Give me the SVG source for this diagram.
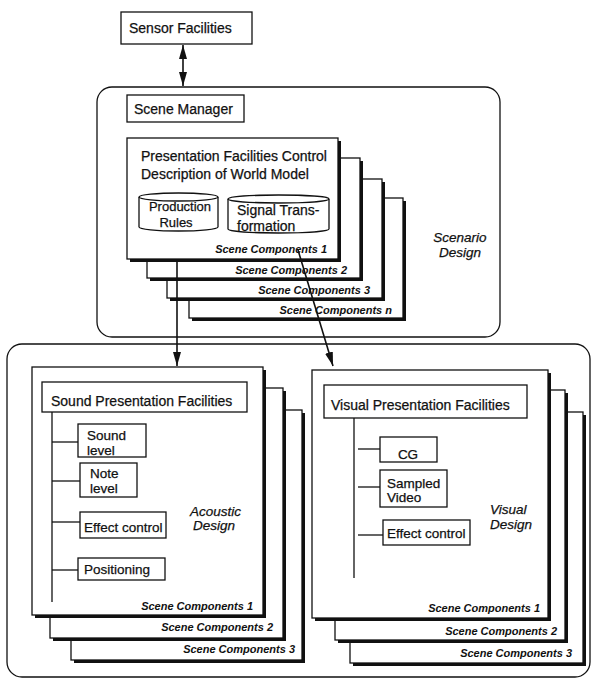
<svg xmlns="http://www.w3.org/2000/svg" width="593" height="679" viewBox="0 0 593 679">
<style>
.t{font-family:"Liberation Sans",Arial,sans-serif;font-size:14px;fill:#111;stroke:#111;stroke-width:0.25}
.c{font-family:"Liberation Sans",Arial,sans-serif;font-size:13px;fill:#111;stroke:#111;stroke-width:0.25}
.s{font-family:"Liberation Sans",Arial,sans-serif;font-size:13.5px;fill:#111;stroke:#111;stroke-width:0.25}
.i{font-family:"Liberation Sans",Arial,sans-serif;font-size:13.5px;font-style:italic;fill:#111;stroke:#111;stroke-width:0.25}
.sc{font-family:"Liberation Sans",Arial,sans-serif;font-size:11px;font-style:italic;font-weight:bold;fill:#111;text-anchor:end}
.box{fill:#fff;stroke:#111;stroke-width:1.3}
.frame{fill:none;stroke:#111;stroke-width:1.3}
.sh{fill:#111}
.ln{stroke:#111;stroke-width:1.3;fill:none}
.ar{stroke:#111;stroke-width:1.6;fill:none}
</style>
<defs>
<marker id="ah" viewBox="0 0 14 8" refX="14" refY="4" markerWidth="14" markerHeight="8" orient="auto-start-reverse" markerUnits="userSpaceOnUse">
<path d="M0,0 L14,4 L0,8 z" fill="#111"/>
</marker>
</defs>
<rect width="593" height="679" fill="#fff"/>

<g id="scenario-design">
<rect class="frame" x="97" y="87" width="403" height="250" rx="15"/>
<text class="i" x="460" y="242" text-anchor="middle">Scenario</text>
<text class="i" x="460" y="257" text-anchor="middle">Design</text>
</g>

<g id="presentation-design">
<rect class="frame" x="7" y="344" width="583" height="333" rx="15"/>
</g>

<g id="sensor-facilities">
<rect class="box" x="121" y="12" width="131" height="32"/>
<text class="t" x="129" y="33">Sensor Facilities</text>
</g>

<g id="scene-manager">
<rect class="box" x="127" y="95" width="117" height="27"/>
<text class="t" x="134" y="114">Scene Manager</text>
</g>

<g id="scene-components-n">
<rect class="sh" x="192" y="201" width="214" height="120"/>
<rect class="box" x="189" y="198" width="214" height="120"/>
<text class="sc" x="392" y="314">Scene Components n</text>
</g>
<g id="scene-components-3">
<rect class="sh" x="170" y="182" width="215" height="119"/>
<rect class="box" x="167" y="179" width="215" height="119"/>
<text class="sc" x="370" y="294">Scene Components 3</text>
</g>
<g id="scene-components-2">
<rect class="sh" x="150" y="161" width="213" height="120"/>
<rect class="box" x="147" y="158" width="213" height="120"/>
<text class="sc" x="347" y="274">Scene Components 2</text>
</g>
<g id="scene-components-1">
<rect class="sh" x="130" y="141" width="211" height="121"/>
<rect class="box" x="127" y="138" width="211" height="121"/>
<text class="t" x="141" y="161">Presentation Facilities Control</text>
<text class="t" x="141" y="179">Description of World Model</text>
<text class="sc" x="327" y="253">Scene Components 1</text>
</g>

<g id="production-rules">
<path class="box" d="M139,197 A39.5,4 0 0 1 218,197 L218,227 A39.5,4 0 0 1 139,227 Z"/>
<path class="ln" d="M139,197 A39.5,4 0 0 0 218,197"/>
<text class="c" x="180" y="211" text-anchor="middle">Production</text>
<text class="c" x="176" y="227" text-anchor="middle">Rules</text>
</g>

<g id="signal-transformation">
<path class="box" d="M228,199 A50.5,4 0 0 1 329,199 L329,229 A50.5,4 0 0 1 228,229 Z"/>
<path class="ln" d="M228,199 A50.5,4 0 0 0 329,199"/>
<text class="t" x="237" y="215">Signal Trans-</text>
<text class="t" x="237" y="231">formation</text>
</g>

<g id="sound-card-3">
<rect class="sh" x="74" y="413" width="231" height="250"/>
<rect class="box" x="71" y="410" width="231" height="250"/>
<text class="sc" x="295" y="653">Scene Components 3</text>
</g>
<g id="sound-card-2">
<rect class="sh" x="53" y="391" width="233" height="250"/>
<rect class="box" x="50" y="388" width="233" height="250"/>
<text class="sc" x="273" y="631">Scene Components 2</text>
</g>
<g id="sound-card-1">
<rect class="sh" x="35" y="370" width="231" height="248"/>
<rect class="box" x="32" y="367" width="231" height="248"/>
<text class="sc" x="253" y="610">Scene Components 1</text>
<text class="i" x="190" y="516">Acoustic</text>
<text class="i" x="193" y="530">Design</text>
</g>

<g id="visual-card-3">
<rect class="sh" x="353" y="415" width="233" height="251"/>
<rect class="box" x="350" y="412" width="233" height="251"/>
<text class="sc" x="572" y="657">Scene Components 3</text>
</g>
<g id="visual-card-2">
<rect class="sh" x="338" y="393" width="230" height="250"/>
<rect class="box" x="335" y="390" width="230" height="250"/>
<text class="sc" x="557" y="635">Scene Components 2</text>
</g>
<g id="visual-card-1">
<rect class="sh" x="315" y="373" width="236" height="248"/>
<rect class="box" x="312" y="370" width="236" height="248"/>
<text class="sc" x="540" y="612">Scene Components 1</text>
<text class="i" x="490" y="514">Visual</text>
<text class="i" x="490" y="529">Design</text>
</g>

<g id="connectors">
<line class="ar" x1="183" y1="45" x2="183" y2="86" marker-start="url(#ah)" marker-end="url(#ah)"/>
<line class="ar" x1="177" y1="259" x2="177" y2="366" marker-end="url(#ah)"/>
<line class="ar" x1="298" y1="250" x2="333" y2="366" marker-end="url(#ah)"/>
<line class="ln" x1="52" y1="412" x2="52" y2="602"/>
<line class="ln" x1="52" y1="442" x2="78" y2="442"/>
<line class="ln" x1="52" y1="481" x2="80" y2="481"/>
<line class="ln" x1="52" y1="522" x2="80" y2="522"/>
<line class="ln" x1="52" y1="570" x2="78" y2="570"/>
<line class="ln" x1="354" y1="418" x2="354" y2="578"/>
<line class="ln" x1="358" y1="449" x2="380" y2="449"/>
<line class="ln" x1="358" y1="487" x2="380" y2="487"/>
<line class="ln" x1="358" y1="535" x2="383" y2="535"/>
</g>

<g id="sound-presentation-facilities">
<rect class="box" x="42" y="382" width="205" height="30"/>
<text class="t" x="51" y="406">Sound Presentation Facilities</text>
</g>
<g id="sound-level">
<rect class="box" x="78" y="424" width="68" height="33"/>
<text class="s" x="87" y="440">Sound</text>
<text class="s" x="87" y="455">level</text>
</g>
<g id="note-level">
<rect class="box" x="80" y="463" width="57" height="34"/>
<text class="s" x="90" y="478">Note</text>
<text class="s" x="90" y="493">level</text>
</g>
<g id="sound-effect-control">
<rect class="box" x="80" y="512" width="86" height="26"/>
<text class="s" x="84" y="532">Effect control</text>
</g>
<g id="positioning">
<rect class="box" x="78" y="558" width="87" height="22"/>
<text class="s" x="84" y="574">Positioning</text>
</g>

<g id="visual-presentation-facilities">
<rect class="box" x="324" y="385" width="203" height="33"/>
<text class="t" x="331" y="410">Visual Presentation Facilities</text>
</g>
<g id="cg">
<rect class="box" x="380" y="437" width="57" height="25"/>
<text class="s" x="408" y="459" text-anchor="middle">CG</text>
</g>
<g id="sampled-video">
<rect class="box" x="380" y="470" width="67" height="37"/>
<text class="s" x="387" y="488">Sampled</text>
<text class="s" x="387" y="502">Video</text>
</g>
<g id="visual-effect-control">
<rect class="box" x="383" y="520" width="87" height="25"/>
<text class="s" x="387" y="538">Effect control</text>
</g>
</svg>
